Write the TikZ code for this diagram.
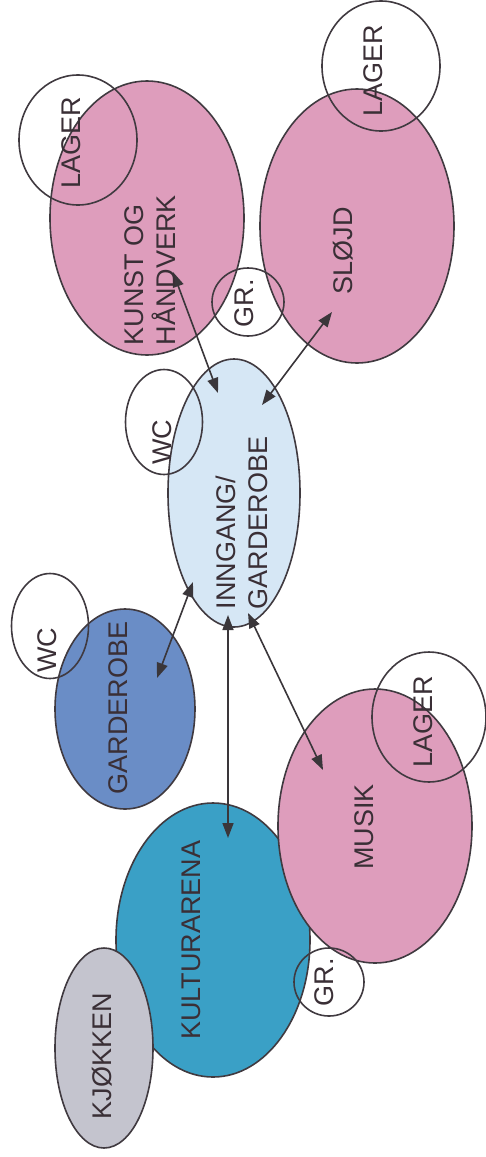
\documentclass[tikz,border=0pt]{standalone}
\usepackage{fontspec}
\setmainfont{Liberation Sans}
\usepackage{xcolor}
\usetikzlibrary{arrows.meta, shapes.geometric}

\definecolor{rosa}{HTML}{DE9DBC}
\definecolor{lysblaa}{HTML}{D6E7F5}
\definecolor{blaa}{HTML}{6A8DC6}
\definecolor{turkis}{HTML}{3AA0C6}
\definecolor{graa}{HTML}{C4C4CE}
\definecolor{kant}{HTML}{403A40}
\definecolor{ink}{HTML}{3A2F36}
\definecolor{pil}{HTML}{3A363A}

\begin{document}
\begin{tikzpicture}[x=0.5pt, y=-0.5pt,
    room/.style={ellipse, draw=kant, line width=0.8pt, inner sep=0pt, outer sep=0pt},
    lbl/.style={rotate=90, text=ink, font=\fontsize{13.5}{16}\selectfont, align=left, inner sep=0pt},
    link/.style={{Triangle[length=7.5pt,width=5.5pt]}-{Triangle[length=7.5pt,width=5.5pt]}, line width=0.8pt, draw=pil}]
    \useasboundingbox (0,0) rectangle (486,1157);

    % rooms
    \node[room, fill=rosa, minimum width=97pt, minimum height=137pt] (kunst) at (147,218) {};
    \node[room, fill=rosa, minimum width=97pt, minimum height=137pt] (slojd) at (357,226) {};
    \node[room, fill=lysblaa, minimum width=66pt, minimum height=134pt] (inngang) at (234,493) {};
    \node[room, fill=blaa, minimum width=70pt, minimum height=100pt] (garderobe) at (125,709) {};
    \node[room, fill=turkis, minimum width=97pt, minimum height=137pt] (kultur) at (213,940) {};
    \node[room, fill=rosa, minimum width=97pt, minimum height=137pt] (musik) at (375,826) {};
    \node[room, fill=graa, minimum width=49pt, minimum height=100pt] (kjokken) at (104,1048) {};

    % small rooms
    \node[room, minimum width=59pt, minimum height=65pt] (lager1) at (78,140) {};
    \node[room, minimum width=59pt, minimum height=65pt] (lager2) at (381,66) {};
    \node[room, minimum width=57pt, minimum height=65pt] (lager3) at (429,717) {};
    \node[room, minimum width=36pt, minimum height=34pt] (gr1) at (248,302) {};
    \node[room, minimum width=35pt, minimum height=34pt] (gr2) at (329,982) {};
    \node[room, minimum width=38.5pt, minimum height=52.5pt] (wc1) at (164,422) {};
    \node[room, minimum width=38.5pt, minimum height=52.5pt] (wc2) at (50,626) {};

    % arrow ends
    \coordinate (kunst-p) at (173,272);
    \coordinate (inn-k) at (218,393);
    \coordinate (slojd-p) at (332,312);
    \coordinate (inn-s) at (262,405);
    \coordinate (inn-g) at (193,582);
    \coordinate (gard-p) at (157,678);
    \coordinate (inn-a) at (228,615);
    \coordinate (kultur-p) at (228,838);
    \coordinate (inn-m) at (248,613);
    \coordinate (musik-p) at (323,770);

    \draw[link] (kunst-p) -- (inn-k);
    \draw[link] (slojd-p) -- (inn-s);
    \draw[link] (inn-g) -- (gard-p);
    \draw[link] (inn-a) -- (kultur-p);
    \draw[link] (inn-m) -- (musik-p);

    % labels
    \node[lbl] (kunst-txt) at (150,270) {KUNST OG\\HÅNDVERK};
    \node[lbl] (slojd-txt) at (343,251) {SLØJD};
    \node[lbl] (inngang-txt) at (242,523) {INNGANG/\\GARDEROBE};
    \node[lbl] (garderobe-txt) at (118,708) {GARDEROBE};
    \node[lbl] (kultur-txt) at (191,940) {KULTURARENA};
    \node[lbl] (musik-txt) at (364,827) {MUSIK};
    \node[lbl] (kjokken-txt) at (102,1056) {KJØKKEN};
    \node[lbl] (lager1-txt) at (71,143) {LAGER};
    \node[lbl] (lager2-txt) at (373,71) {LAGER};
    \node[lbl] (lager3-txt) at (423,722) {LAGER};
    \node[lbl] (gr1-txt) at (244,303) {GR.};
    \node[lbl] (gr2-txt) at (324,982) {GR.};
    \node[lbl] (wc1-txt) at (162,442) {WC};
    \node[lbl] (wc2-txt) at (47,650) {WC};
\end{tikzpicture}
\end{document}
